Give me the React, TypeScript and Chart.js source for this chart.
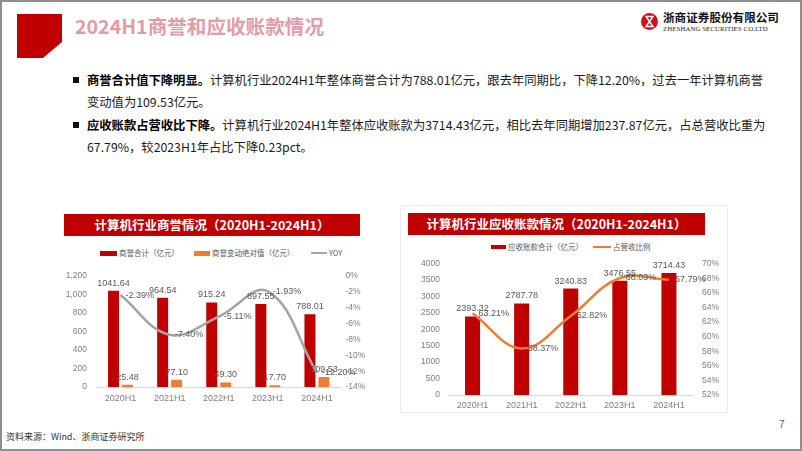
import React, { useEffect, useRef } from "react";
import { Chart, registerables } from "chart.js";

Chart.register(...registerables);

// ---------- data ----------
const periods = ["2020H1", "2021H1", "2022H1", "2023H1", "2024H1"];
const goodwillTotal = [1041.64, 964.54, 915.24, 897.55, 788.01];
const goodwillChange = [25.48, 77.1, 49.3, 17.7, 109.53];
const goodwillYoy = [-2.39, -7.4, -5.11, -1.93, -12.2];
const receivables = [2393.32, 2787.78, 3240.83, 3476.55, 3714.43];
const receivableRatio = [63.21, 58.37, 62.82, 68.03, 67.79];

const leftAxisTicks = { min: 0, max: 1200, step: 200 };
const yoyAxisTicks = { min: -14, max: 0, step: 2 };
const recAxisTicks = { min: 0, max: 4000, step: 500 };
const ratioAxisTicks = { min: 52, max: 70, step: 2 };

// ---------- styles ----------
const RED = "#C00000";
const ORANGE = "#ED7D31";
const GRAY = "#A5A5A5";
const LABEL = "#595959";
const TICK = "#7F7F7F";
const NARROW = "'Liberation Sans Narrow', 'Liberation Sans', Arial, sans-serif";
const CJK = "'Noto Sans CJK SC', 'Noto Sans', sans-serif";

type LabelCfg = { pos: "top" | "right"; offset: number; fmt: (v: number) => string } | null;

function makeLabelPlugin(cfgs: LabelCfg[]) {
  return {
    id: "valueLabels",
    afterDatasetsDraw(chart: any) {
      const ctx = chart.ctx;
      cfgs.forEach((cfg, i) => {
        if (!cfg) return;
        const meta = chart.getDatasetMeta(i);
        const ds = chart.data.datasets[i];
        ctx.save();
        ctx.font = `9px ${NARROW}`;
        ctx.fillStyle = LABEL;
        meta.data.forEach((el: any, j: number) => {
          const text = cfg.fmt(ds.data[j] as number);
          if (cfg.pos === "top") {
            ctx.textAlign = "center";
            ctx.textBaseline = "bottom";
            ctx.fillText(text, el.x, el.y - cfg.offset);
          } else {
            ctx.textAlign = "left";
            ctx.textBaseline = "middle";
            ctx.fillText(text, el.x + cfg.offset, el.y);
          }
        });
        ctx.restore();
      });
    },
  };
}

function fixedWidth(w: number) {
  return (scale: any) => {
    scale.width = w;
  };
}
function fixedHeight(h: number) {
  return (scale: any) => {
    scale.height = h;
  };
}

function GoodwillChart() {
  const ref = useRef<HTMLCanvasElement | null>(null);
  useEffect(() => {
    if (!ref.current) return;
    const chart = new Chart(ref.current, {
      type: "bar",
      data: {
        labels: periods,
        datasets: [
          {
            type: "line",
            label: "YOY",
            data: goodwillYoy,
            yAxisID: "y1",
            borderColor: GRAY,
            borderWidth: 2.5,
            pointRadius: 0,
            tension: 0.4,
            clip: false,
            order: 0,
          } as any,
          {
            type: "bar",
            label: "商誉合计（亿元）",
            data: goodwillTotal,
            yAxisID: "y",
            backgroundColor: RED,
            categoryPercentage: 0.57,
            barPercentage: 0.786,
            order: 1,
          },
          {
            type: "bar",
            label: "商誉变动绝对值（亿元）",
            data: goodwillChange,
            yAxisID: "y",
            backgroundColor: ORANGE,
            categoryPercentage: 0.57,
            barPercentage: 0.786,
            order: 1,
          },
        ],
      },
      options: {
        animation: false,
        responsive: false,
        maintainAspectRatio: false,
        layout: { padding: { top: 13, left: 0, right: 0, bottom: 0 } },
        plugins: { legend: { display: false }, tooltip: { enabled: false } },
        scales: {
          x: {
            grid: { display: false, drawTicks: false },
            border: { display: true, color: "#D9D9D9", width: 1 },
            ticks: { color: TICK, font: { size: 9, family: NARROW }, padding: 6, maxRotation: 0 },
            afterFit: fixedHeight(23),
          },
          y: {
            position: "left",
            min: leftAxisTicks.min,
            max: leftAxisTicks.max,
            grid: { display: false, drawTicks: false },
            border: { display: false },
            ticks: { stepSize: leftAxisTicks.step, color: TICK, font: { size: 8.5, family: NARROW }, padding: 9 },
            afterFit: fixedWidth(36),
          },
          y1: {
            position: "right",
            min: yoyAxisTicks.min,
            max: yoyAxisTicks.max,
            grid: { display: false, drawTicks: false },
            border: { display: false },
            ticks: {
              stepSize: yoyAxisTicks.step,
              color: TICK,
              font: { size: 8.5, family: NARROW },
              padding: 4,
              callback: (v: any) => `${v}%`,
            },
            afterFit: fixedWidth(48.5),
          },
        },
      } as any,
      plugins: [
        makeLabelPlugin([
          { pos: "right", offset: 5, fmt: (v) => `${v.toFixed(2)}%` },
          { pos: "top", offset: 3, fmt: (v) => v.toFixed(2) },
          { pos: "top", offset: 3, fmt: (v) => v.toFixed(2) },
        ]),
      ],
    });
    return () => chart.destroy();
  }, []);
  return (
    <canvas
      ref={ref}
      width={330}
      height={148}
      style={{ position: "absolute", left: 60, top: 262, width: 330, height: 148 }}
    />
  );
}

function ReceivableChart() {
  const ref = useRef<HTMLCanvasElement | null>(null);
  useEffect(() => {
    if (!ref.current) return;
    const chart = new Chart(ref.current, {
      type: "bar",
      data: {
        labels: periods,
        datasets: [
          {
            type: "line",
            label: "占营收比例",
            data: receivableRatio,
            yAxisID: "y1",
            borderColor: ORANGE,
            borderWidth: 2.5,
            pointRadius: 0,
            tension: 0.4,
            clip: false,
            order: 0,
          } as any,
          {
            type: "bar",
            label: "应收账款合计（亿元）",
            data: receivables,
            yAxisID: "y",
            backgroundColor: RED,
            categoryPercentage: 0.6,
            barPercentage: 0.51,
            order: 1,
          },
        ],
      },
      options: {
        animation: false,
        responsive: false,
        maintainAspectRatio: false,
        layout: { padding: { top: 12, left: 0, right: 0, bottom: 0 } },
        plugins: { legend: { display: false }, tooltip: { enabled: false } },
        scales: {
          x: {
            grid: { display: false, drawTicks: false },
            border: { display: true, color: "#D9D9D9", width: 1 },
            ticks: { color: TICK, font: { size: 9, family: NARROW }, padding: 5, maxRotation: 0 },
            afterFit: fixedHeight(20),
          },
          y: {
            position: "left",
            min: recAxisTicks.min,
            max: recAxisTicks.max,
            grid: { display: false, drawTicks: false },
            border: { display: false },
            ticks: {
              stepSize: recAxisTicks.step,
              color: TICK,
              font: { size: 8.5, family: NARROW },
              padding: 8,
              callback: (v: any) => String(v),
            },
            afterFit: fixedWidth(48),
          },
          y1: {
            position: "right",
            min: ratioAxisTicks.min,
            max: ratioAxisTicks.max,
            grid: { display: false, drawTicks: false },
            border: { display: false },
            ticks: {
              stepSize: ratioAxisTicks.step,
              color: TICK,
              font: { size: 8.5, family: NARROW },
              padding: 8.5,
              callback: (v: any) => `${v}%`,
            },
            afterFit: fixedWidth(36.5),
          },
        },
      } as any,
      plugins: [
        makeLabelPlugin([
          { pos: "right", offset: 6, fmt: (v) => `${v.toFixed(2)}%` },
          { pos: "top", offset: 3, fmt: (v) => v.toFixed(2) },
        ]),
      ],
    });
    return () => chart.destroy();
  }, []);
  return (
    <canvas
      ref={ref}
      width={330}
      height={165}
      style={{ position: "absolute", left: 400, top: 250, width: 330, height: 165 }}
    />
  );
}

const abs = (s: React.CSSProperties): React.CSSProperties => ({ position: "absolute", ...s });

function LegendText({ left, cy, text }: { left: number; cy: number; text: string }) {
  return (
    <div
      style={abs({
        left,
        top: cy - 6,
        height: 12,
        lineHeight: "12px",
        fontSize: 7.5,
        color: LABEL,
        whiteSpace: "nowrap",
        fontFamily: CJK,
      })}
    >
      {text}
    </div>
  );
}

function BodyLine({ top, left, children }: { top: number; left: number; children: React.ReactNode }) {
  return (
    <div
      style={abs({
        left,
        top: top - 9,
        height: 18,
        lineHeight: "18px",
        fontSize: 12.3,
        color: "#1a1a1a",
        whiteSpace: "nowrap",
        fontFamily: CJK,
      })}
    >
      {children}
    </div>
  );
}

export default function App() {
  return (
    <div
      style={{
        position: "relative",
        width: 802,
        height: 451,
        overflow: "hidden",
        background: "#fff",
        fontFamily: CJK,
      }}
    >
      <style>{`body{margin:0;}`}</style>
      {/* slide frame */}
      <div style={abs({ left: 0, top: 0, width: 802, height: 451, boxSizing: "border-box", border: "2px solid #8f8f8f" })} />

      {/* title block */}
      <svg style={abs({ left: 0, top: 0 })} width={80} height={70}>
        <polygon points="17,14 62,14 62,42 43,58 17,58" fill={RED} />
      </svg>
      <div
        style={abs({
          left: 75,
          top: 12,
          height: 28,
          lineHeight: "28px",
          fontSize: 19.6,
          fontWeight: 700,
          color: "#E29CA5",
          whiteSpace: "nowrap",
        })}
      >
        2024H1商誉和应收账款情况
      </div>

      {/* logo */}
      <svg style={abs({ left: 640, top: 12 })} width={20} height={20}>
        <circle cx={9.5} cy={9.5} r={8.5} fill="#D0111B" />
        <path d="M6 4.5 L13 4.5 L9.5 9.5 Z" fill="none" stroke="#fff" strokeWidth={1.4} />
        <path d="M9.5 9.5 L6 14.5 L13 14.5 Z" fill="none" stroke="#fff" strokeWidth={1.4} />
      </svg>
      <div
        style={abs({
          left: 663,
          top: 9,
          height: 16,
          lineHeight: "16px",
          fontSize: 11.6,
          fontWeight: 700,
          color: "#111",
          whiteSpace: "nowrap",
        })}
      >
        浙商证券股份有限公司
      </div>
      <div
        style={abs({
          left: 663,
          top: 24,
          height: 10,
          lineHeight: "10px",
          fontSize: 6.8,
          fontFamily: "'Liberation Serif', 'DejaVu Serif', serif",
          color: "#222",
          whiteSpace: "nowrap",
          letterSpacing: 0.1,
        })}
      >
        ZHESHANG SECURITIES CO.LTD
      </div>

      {/* bullet text */}
      <div style={abs({ left: 73, top: 77, width: 6, height: 6, background: "#111" })} />
      <BodyLine top={80} left={87}>
        <b style={{ color: "#000" }}>商誉合计值下降明显。</b>计算机行业2024H1年整体商誉合计为788.01亿元，跟去年同期比，下降12.20%，过去一年计算机商誉
      </BodyLine>
      <BodyLine top={102} left={87}>
        变动值为109.53亿元。
      </BodyLine>
      <div style={abs({ left: 73, top: 122, width: 6, height: 6, background: "#111" })} />
      <BodyLine top={125} left={87}>
        <b style={{ color: "#000" }}>应收账款占营收比下降。</b>计算机行业2024H1年整体应收账款为3714.43亿元，相比去年同期增加237.87亿元，占总营收比重为
      </BodyLine>
      <BodyLine top={147} left={87}>
        67.79%，较2023H1年占比下降0.23pct。
      </BodyLine>

      {/* left chart header + legend */}
      <div
        style={abs({
          left: 64,
          top: 214,
          width: 296,
          height: 22,
          lineHeight: "22px",
          background: RED,
          color: "#fff",
          fontSize: 12.5,
          fontWeight: 700,
          textAlign: "center",
          whiteSpace: "nowrap",
        })}
      >
        计算机行业商誉情况（2020H1-2024H1）
      </div>
      <div style={abs({ left: 100, top: 251, width: 17, height: 4.5, background: RED })} />
      <LegendText left={119} cy={253} text="商誉合计（亿元）" />
      <div style={abs({ left: 194, top: 251, width: 16, height: 4.5, background: ORANGE })} />
      <LegendText left={212} cy={253} text="商誉变动绝对值（亿元）" />
      <div style={abs({ left: 311, top: 252, width: 16, height: 2, background: GRAY })} />
      <LegendText left={329} cy={253} text="YOY" />
      <GoodwillChart />

      {/* right chart frame + header + legend */}
      <div style={abs({ left: 400, top: 205, width: 328, height: 208, boxSizing: "border-box", border: "1px solid #ececec" })} />
      <div
        style={abs({
          left: 408,
          top: 213,
          width: 297,
          height: 22,
          lineHeight: "22px",
          background: RED,
          color: "#fff",
          fontSize: 12.5,
          fontWeight: 700,
          textAlign: "center",
          whiteSpace: "nowrap",
        })}
      >
        计算机行业应收账款情况（2020H1-2024H1）
      </div>
      <div style={abs({ left: 491, top: 244.5, width: 15, height: 4.5, background: RED })} />
      <LegendText left={508} cy={247} text="应收账款合计（亿元）" />
      <div style={abs({ left: 593, top: 246, width: 18, height: 2, background: ORANGE })} />
      <LegendText left={613} cy={247} text="占营收比例" />
      <ReceivableChart />

      {/* footer */}
      <div
        style={abs({
          left: 6,
          top: 430,
          height: 14,
          lineHeight: "14px",
          fontSize: 9,
          color: "#333",
          whiteSpace: "nowrap",
        })}
      >
        资料来源：Wind、浙商证券研究所
      </div>
      <div
        style={abs({
          left: 779,
          top: 418,
          height: 14,
          lineHeight: "14px",
          fontSize: 10,
          color: "#595959",
          fontFamily: "'Liberation Sans', sans-serif",
        })}
      >
        7
      </div>
    </div>
  );
}
